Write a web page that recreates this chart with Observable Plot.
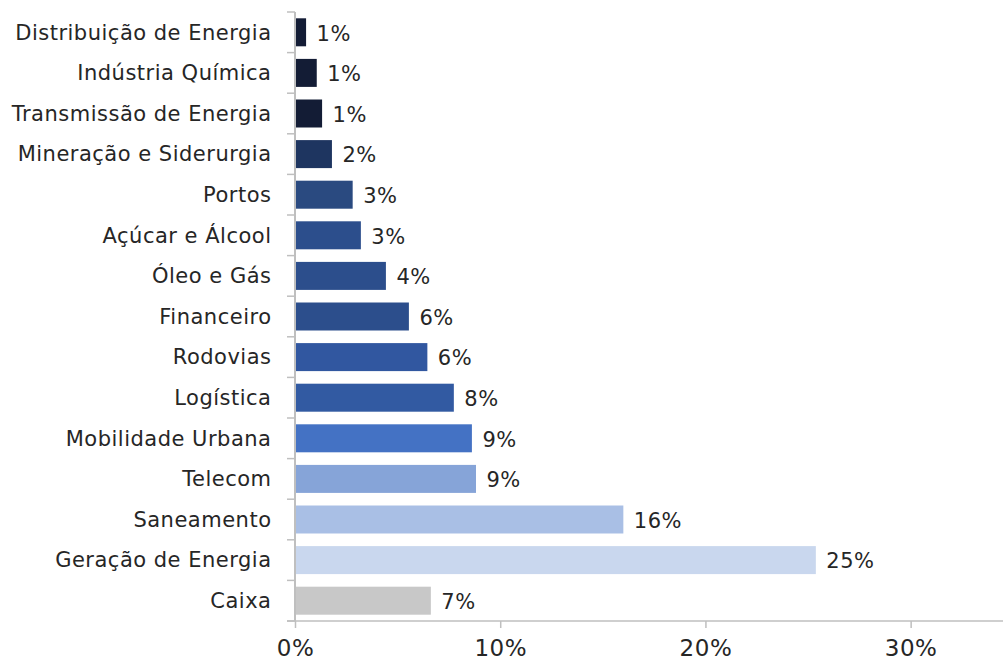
<!DOCTYPE html>
<html>
<head>
<meta charset="utf-8">
<script src="https://cdn.jsdelivr.net/npm/d3@7"></script>
<script src="https://cdn.jsdelivr.net/npm/@observablehq/plot@0.6"></script>
<style>
  html, body { margin: 0; padding: 0; background: #fff; }
  #chart svg { display: block; }
  #chart svg text { letter-spacing: 0.5px; }
</style>
</head>
<body>
<div id="chart"></div>
<script>
const categories = ["Distribuição de Energia","Indústria Química","Transmissão de Energia","Mineração e Siderurgia","Portos","Açúcar e Álcool","Óleo e Gás","Financeiro","Rodovias","Logística","Mobilidade Urbana","Telecom","Saneamento","Geração de Energia","Caixa"];
const values = [0.54, 1.06, 1.32, 1.8, 2.81, 3.21, 4.43, 5.55, 6.45, 7.74, 8.62, 8.82, 16.0, 25.38, 6.62];
const colors = ["#131c35","#131c35","#131c35","#1e3560","#2a4a80","#2c4e8c","#2c4e8c","#2c4e8c","#3157a0","#325aa2","#4472c4","#86a4d8","#a9bfe5","#c9d7ee","#c8c8c8"];
const xTicks = [0, 0.1, 0.2, 0.3];

const data = categories.map((c, i) => ({cat: c, v: values[i] / 100, color: colors[i]}));

const font = "'DejaVu Sans', sans-serif";
const axisColor = "#bfbfbf";
const textColor = "#262626";

// boundary ticks on the category axis
function boundaryTicks(index, scales, values, dims) {
  const g = d3.create("svg:g");
  const y = scales.y;
  const bw = y.bandwidth();
  const x0 = dims.marginLeft;
  const edges = categories.map(c => y(c)).concat([y(categories[categories.length - 1]) + bw]);
  g.selectAll("line").data(edges).join("line")
    .attr("x1", x0 - 8).attr("x2", x0)
    .attr("y1", d => d).attr("y2", d => d)
    .attr("stroke", axisColor).attr("stroke-width", 1.5);
  g.append("line")
    .attr("x1", x0).attr("x2", x0)
    .attr("y1", edges[0]).attr("y2", edges[edges.length - 1])
    .attr("stroke", axisColor).attr("stroke-width", 2);
  g.append("line")
    .attr("x1", x0 - 8).attr("x2", dims.width - dims.marginRight)
    .attr("y1", edges[edges.length - 1]).attr("y2", edges[edges.length - 1])
    .attr("stroke", axisColor).attr("stroke-width", 1.5);
  return g.node();
}

const chart = Plot.plot({
  width: 1003,
  height: 664,
  marginLeft: 295,
  marginRight: 0,
  marginTop: 12,
  marginBottom: 43,
  style: {fontFamily: font, color: textColor, background: "#fff"},
  x: {domain: [0, 0.345]},
  y: {domain: categories, padding: 0, round: false},
  marks: [
    Plot.barX(data, {x: "v", y: "cat", fill: "color", insetTop: 6.3, insetBottom: 6.3}),
    Plot.text(data, {x: "v", y: "cat", text: d => Math.round(d.v * 100) + "%", textAnchor: "start", dx: 10, dy: 1, fontSize: 21, fill: textColor}),
    Plot.axisY({tickSize: 0, tickPadding: 24, fontSize: 21, fill: textColor, label: null}),
    Plot.axisX({ticks: xTicks, tickFormat: d3.format(".0%"), tickSize: 7, tickPadding: 11, fontSize: 23, stroke: axisColor, strokeWidth: 1.5, fill: textColor, label: null}),
    boundaryTicks
  ]
});
document.getElementById("chart").appendChild(chart);
</script>
</body>
</html>
